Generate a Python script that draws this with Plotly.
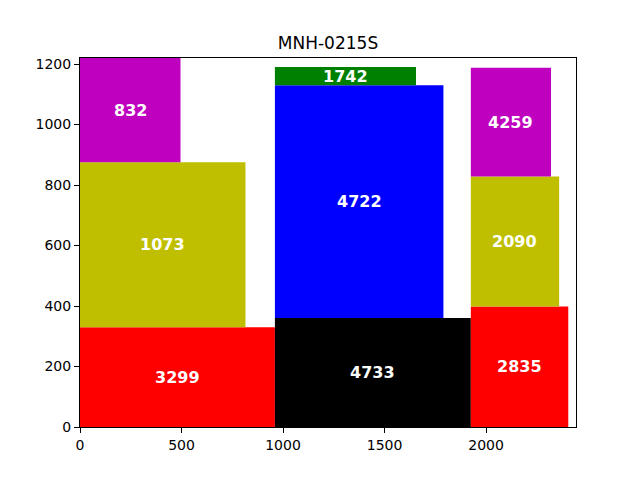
import plotly.graph_objects as go

# packed pieces: id, lower-left corner, size, colour
labels = ["3299", "4733", "2835", "1073", "832", "4722", "1742", "2090", "4259"]
x0 = [0, 960, 1925, 0, 0, 960, 960, 1925, 1925]
y0 = [0, 0, 0, 330, 875, 360, 1130, 398, 828]
widths = [960, 965, 480, 815, 495, 830, 695, 435, 395]
heights = [330, 360, 398, 545, 345, 770, 60, 430, 360]
colors = ["#ff0000", "#000000", "#ff0000", "#bfbf00", "#bf00bf",
          "#0000ff", "#008000", "#bfbf00", "#bf00bf"]

sheet_w = 2443
sheet_h = 1220

fig = go.Figure()

for lab, x, y, w, h, c in zip(labels, x0, y0, widths, heights, colors):
    fig.add_trace(
        go.Scatter(
            x=[x, x + w, x + w, x, x],
            y=[y, y, y + h, y + h, y],
            mode="lines",
            fill="toself",
            fillcolor=c,
            line={"width": 0, "color": c},
            hoverinfo="skip",
            showlegend=False,
        )
    )
    fig.add_annotation(
        x=x + w / 2,
        y=y + h / 2,
        text=f"<b>{lab}</b>",
        showarrow=False,
        font={"color": "white", "size": 16, "family": "DejaVu Sans"},
    )

axis_style = dict(
    showgrid=False,
    zeroline=False,
    showline=True,
    linecolor="black",
    linewidth=1,
    mirror=True,
    ticks="outside",
    ticklen=5,
    tickcolor="black",
    tickfont={"size": 14, "color": "black"},
    automargin=False,
)

fig.update_xaxes(range=[0, sheet_w], dtick=500, **axis_style)
fig.update_yaxes(range=[0, sheet_h], dtick=200, **axis_style)

# page body adds an 8px offset, so margins are trimmed to compensate
fig.update_layout(
    width=640,
    height=480,
    margin={"l": 72, "r": 72, "t": 50, "b": 61},
    paper_bgcolor="white",
    plot_bgcolor="white",
    font={"family": "DejaVu Sans", "color": "black"},
    title={
        "text": "MNH-0215S",
        "x": 0.5,
        "xanchor": "center",
        "y": 1 - 35 / 480,
        "yanchor": "middle",
        "font": {"size": 17},
    },
)

fig.write_html("out.html")
